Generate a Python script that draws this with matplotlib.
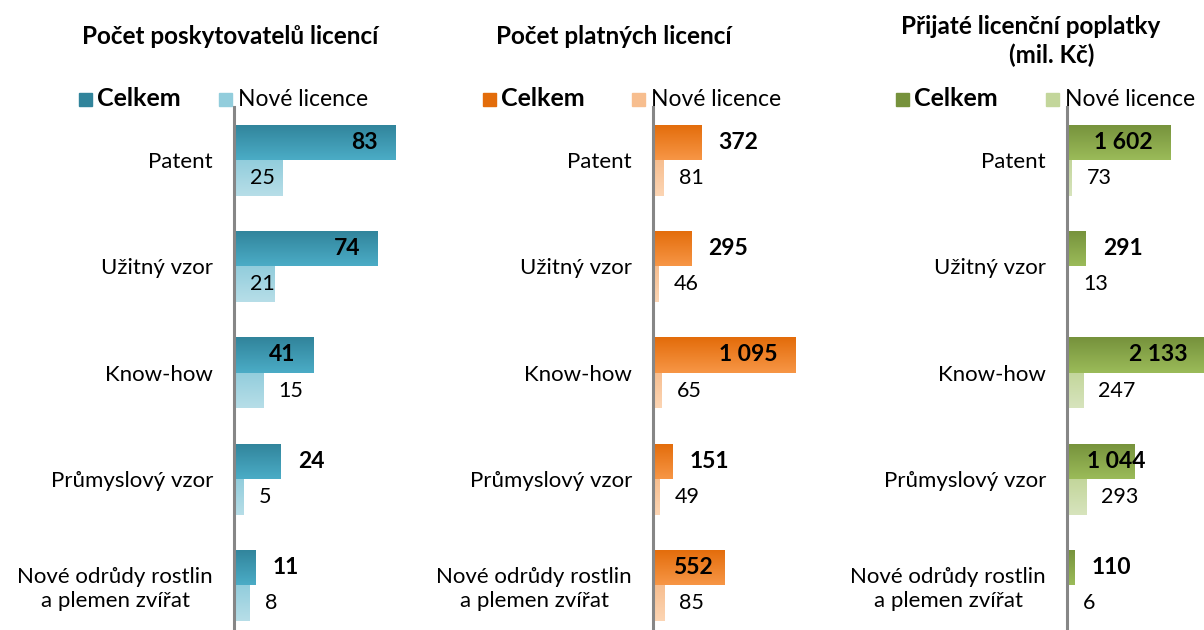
import numpy as np
import matplotlib
matplotlib.use("Agg")
from matplotlib import pyplot as plt
from matplotlib.colors import LinearSegmentedColormap
from matplotlib.patches import Rectangle

plt.rcParams['font.family'] = ['Lato', 'DejaVu Sans']

# data
categories = ["Patent", "Užitný vzor", "Know-how", "Průmyslový vzor",
              "Nové odrůdy rostlin\na plemen zvířat"]
providers_total = [83, 74, 41, 24, 11]
providers_new = [25, 21, 15, 5, 8]
licences_total = [372, 295, 1095, 151, 552]
licences_new = [81, 46, 65, 49, 85]
fees_total = [1602, 291, 2133, 1044, 110]
fees_new = [73, 13, 247, 293, 6]

titles = ["Počet poskytovatelů licencí", "Počet platných licencí",
          "Přijaté licenční poplatky"]
legend_labels = ["Celkem", "Nové licence"]

W, H = 1204, 630
fig = plt.figure(figsize=(W / 100, H / 100), dpi=100)

# (axis x in px, axes width px, x max, values, colours, legend squares x)
panels = [
    (234, 186, 95.6, providers_total, providers_new,
     ("#31849B", "#4BACC6"), ("#92CDDC", "#B7DEE8"), (79, 219)),
    (653, 187, 1442, licences_total, licences_new,
     ("#E36C0A", "#F79646"), ("#F7BE8F", "#FCD5B4"), (483, 632)),
    (1067, 137, 2111, fees_total, fees_new,
     ("#76923C", "#9BBB59"), ("#C3D69B", "#D7E4BD"), (896, 1046)),
]

def fmt(v):
    return f"{v:,}".replace(",", " ")

def gradient_bars(ax, bars, cols):
    cmap = LinearSegmentedColormap.from_list("g", list(cols))
    grad = np.linspace(0, 1, 64).reshape(-1, 1)
    for b in bars:
        x0, y0 = b.get_xy()
        w, h = b.get_width(), b.get_height()
        im = ax.imshow(grad, cmap=cmap, extent=[x0, x0 + w, y0 + h, y0],
                       origin='upper', aspect='auto', zorder=2)
        im.set_clip_path(b)

pt = 0.72  # points per pixel
y = np.arange(len(categories))
bh = 0.334
top_px = 107
inside_labels = []

for i, (ax_x, ax_w, xmax, tot, new, c_tot, c_new, leg) in enumerate(panels):
    ax = fig.add_axes([ax_x / W, 0, ax_w / W, (H - top_px) / H])
    b1 = ax.barh(y - bh / 2, tot, height=bh, color='none', edgecolor='none')
    b2 = ax.barh(y + bh / 2, new, height=bh, color='none', edgecolor='none')
    gradient_bars(ax, b1, c_tot)
    gradient_bars(ax, b2, c_new)
    ax.set_xlim(0, xmax)
    ax.set_ylim(4.42, -0.5)
    px_per_unit = ax_w / xmax

    for yy, v in zip(y, tot):
        wpx = v * px_per_unit
        if wpx > 60:
            t = ax.annotate(fmt(v), (v, yy - bh / 2), xytext=(-18 * pt, 0),
                            textcoords='offset points', ha='right',
                            va='center', fontsize=16.5, fontweight='bold',
                            zorder=5, annotation_clip=False)
            inside_labels.append((t, ax_x))
        else:
            ax.annotate(fmt(v), (v, yy - bh / 2), xytext=(17 * pt, 0),
                        textcoords='offset points', ha='left', va='center',
                        fontsize=16.5, fontweight='bold', zorder=5,
                        annotation_clip=False)
    for yy, v in zip(y, new):
        wpx = v * px_per_unit
        if wpx > 35:
            ax.annotate(fmt(v), (0, yy + bh / 2), xytext=(16 * pt, 0),
                        textcoords='offset points', ha='left', va='center',
                        fontsize=15.5, zorder=5)
        else:
            ax.annotate(fmt(v), (v, yy + bh / 2), xytext=(15 * pt, 0),
                        textcoords='offset points', ha='left', va='center',
                        fontsize=15.5, zorder=5, annotation_clip=False)

    for s in ['top', 'right', 'bottom']:
        ax.spines[s].set_visible(False)
    ax.spines['left'].set_color('#868686')
    ax.spines['left'].set_linewidth(2.2)
    ax.spines['left'].set_zorder(4)
    ax.set_xticks([])
    ax.set_yticks(y)
    ax.set_yticklabels(categories, fontsize=16)
    ax.tick_params(axis='y', length=0, pad=21 * pt)
    for lab in ax.get_yticklabels():
        lab.set_multialignment('center')

    # legend
    fig.patches.append(Rectangle((leg[0] / W, 1 - 106 / H), 13 / W, 13 / H,
                                 transform=fig.transFigure, color=c_tot[0],
                                 figure=fig))
    fig.text((leg[0] + 18) / W, 1 - 99 / H, legend_labels[0], fontsize=18,
             fontweight='bold', va='center', ha='left')
    fig.patches.append(Rectangle((leg[1] / W, 1 - 106 / H), 13 / W, 13 / H,
                                 transform=fig.transFigure, color=c_new[0],
                                 figure=fig))
    fig.text((leg[1] + 19) / W, 1 - 99 / H, legend_labels[1], fontsize=16.5,
             va='center', ha='left')

fig.text(230 / W, 1 - 37 / H, titles[0], fontsize=17.5, fontweight='bold',
         ha='center', va='center')
fig.text(614 / W, 1 - 37 / H, titles[1], fontsize=17.5, fontweight='bold',
         ha='center', va='center')
fig.text(1031 / W, 1 - 27 / H, titles[2], fontsize=17.5, fontweight='bold',
         ha='center', va='center')
fig.text(1052 / W, 1 - 55 / H, "(mil. Kč)", fontsize=17.5, fontweight='bold',
         ha='center', va='center')

# push inside labels off the axis line when the bar is too short for them
fig.canvas.draw()
r = fig.canvas.get_renderer()
for t, ax_x in inside_labels:
    bb = t.get_window_extent(r)
    if bb.x0 < ax_x + 20:
        ox, oy = t.xyann
        t.xyann = (ox + (ax_x + 20 - bb.x0) * pt, oy)

fig.savefig("out.png", dpi=100)
